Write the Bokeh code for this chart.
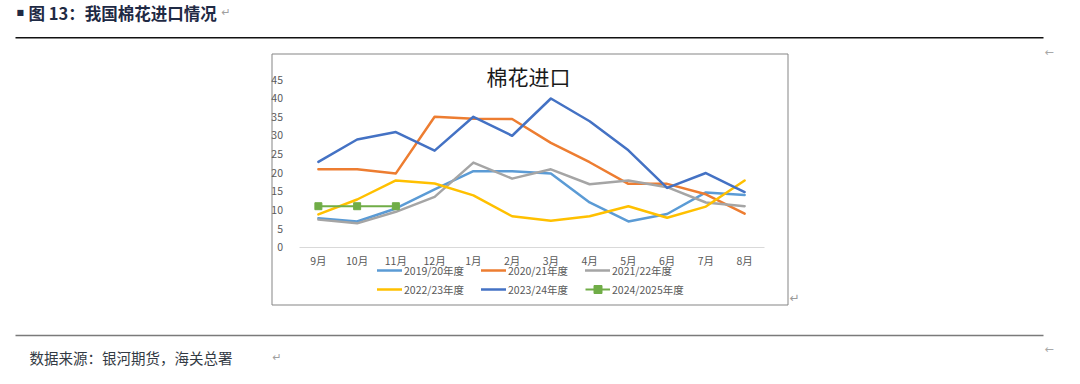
from bokeh.plotting import figure
from bokeh.models import (Range1d, FactorRange, FixedTicker, Label, BoxAnnotation,
                          Legend, LegendItem)
from bokeh.embed import file_html
from bokeh.resources import INLINE

# ---------------- data ----------------
months = ["9月", "10月", "11月", "12月", "1月", "2月", "3月", "4月", "5月", "6月", "7月", "8月"]
s1920 = [7.8, 6.9, 10.4, 15.5, 20.4, 20.4, 19.8, 12.0, 6.9, 8.9, 14.7, 14.0]
s2021 = [20.9, 20.9, 19.8, 35.0, 34.5, 34.4, 28.0, 22.8, 17.0, 17.0, 14.2, 9.0]
s2122 = [7.4, 6.4, 9.5, 13.5, 22.7, 18.4, 20.9, 16.9, 17.9, 16.1, 12.0, 11.0]
s2223 = [8.8, 12.8, 17.9, 17.1, 13.9, 8.3, 7.1, 8.3, 11.0, 7.9, 10.9, 17.9]
s2324 = [22.9, 28.9, 30.9, 25.9, 35.0, 29.9, 39.9, 33.8, 26.0, 15.9, 19.9, 14.8]
s2425 = [11.0, 11.0, 11.0]
series_labels = ["2019/20年度", "2020/21年度", "2021/22年度",
                 "2022/23年度", "2023/24年度", "2024/2025年度"]
y_ticks = [0, 5, 10, 15, 20, 25, 30, 35, 40, 45]
y_top_tick = 45

title_text = "棉花进口"
header_mark = "■"
header_text = "图 13：我国棉花进口情况"
footer_text = "数据来源：银河期货，海关总署"

FONT = "Noto Sans CJK SC"
colors = ["#5B9BD5", "#ED7D31", "#A5A5A5", "#FFC000", "#4472C4", "#70AD47"]

# ---------------- layout (pixels) ----------------
W, H = 1062, 368
PLOT_L, PLOT_R = 298.5, 763.5      # plot-area edges (px)
Y_ZERO, Y_TOP = 246.7, 79.0        # px of value 0 and of top tick
band = (PLOT_R - PLOT_L) / len(months)
pad_pct = (W / band - len(months)) / len(months)
ppu = (Y_ZERO - Y_TOP) / y_top_tick
y_lo = -(H - Y_ZERO) / ppu
y_hi = Y_ZERO / ppu

def xd(X):   # pixel x -> synthetic categorical coordinate
    return (X - PLOT_L) / band

def yd(Y):   # pixel y (from top) -> data value
    return (Y_ZERO - Y) / ppu

# ---------------- figure ----------------
p = figure(x_range=FactorRange(*months, range_padding=pad_pct,
                               range_padding_units="percent"),
           y_range=Range1d(y_lo, y_hi),
           width=W, height=H, min_border=0,
           output_backend="svg", toolbar_location=None)
p.outline_line_color = None
p.grid.visible = False
p.background_fill_color = "white"
p.border_fill_color = "white"

xa = p.xaxis[0]
xa.fixed_location = 0
xa.bounds = (0, len(months))
xa.axis_line_color = "#d9d9d9"
xa.axis_line_width = 1
xa.major_tick_line_color = None
xa.minor_tick_line_color = None
xa.major_label_text_font = FONT
xa.major_label_text_font_size = "10.5px"
xa.major_label_text_color = "#595959"
xa.major_label_standoff = 0

ya = p.yaxis[0]
ya.fixed_location = 0
ya.ticker = FixedTicker(ticks=y_ticks)
ya.axis_line_color = None
ya.major_tick_line_color = None
ya.minor_tick_line_color = None
ya.major_label_text_font = FONT
ya.major_label_text_font_size = "10.5px"
ya.major_label_text_color = "#595959"
ya.major_label_standoff = 10

# ---------------- series ----------------
all_series = [s1920, s2021, s2122, s2223, s2324]
rends = []
for vals, c in zip(all_series, colors[:5]):
    r = p.line(x=months[:len(vals)], y=vals, line_color=c, line_width=2.5,
               line_join="round", line_cap="round")
    rends.append([r])
rg = p.line(x=months[:len(s2425)], y=s2425, line_color=colors[5], line_width=2)
rs = p.scatter(x=months[:len(s2425)], y=s2425, marker="square", size=7,
               fill_color=colors[5], line_color=colors[5])
rends.append([rg, rs])

def make_legend(idx, left_px, center_px):
    items = [LegendItem(label=series_labels[i], renderers=rends[i]) for i in idx]
    return Legend(items=items, orientation="horizontal",
                  location=(left_px, H - (center_px + 10)),
                  glyph_width=25, glyph_height=20, label_height=20,
                  label_standoff=2, label_width=75, spacing=2,
                  padding=0, margin=0,
                  label_text_font=FONT, label_text_font_size="10.5px",
                  label_text_color="#595959",
                  border_line_color=None, background_fill_alpha=0)

p.add_layout(make_legend([0, 1, 2], 377, 270))
p.add_layout(make_legend([3, 4, 5], 377, 289))

# ---------------- page decorations ----------------
def lab(X, Y, text, size, color, font=FONT, style="normal", align="left"):
    p.add_layout(Label(x=xd(X), y=yd(Y), text=text,
                       text_font=font, text_font_size=size, text_font_style=style,
                       text_color=color, text_align=align, text_baseline="middle"))

def box(l, r, t, b, fill=None, line=None, lw=1):
    p.add_layout(BoxAnnotation(left=xd(l), right=xd(r), top=yd(t), bottom=yd(b),
                               fill_color=fill if fill else "white",
                               fill_alpha=1 if fill else 0,
                               line_color=line if line else "white",
                               line_alpha=1 if line else 0, line_width=lw,
                               level="underlay"))

# header
lab(16, 12, header_mark, "8px", "#1f2a44", font="DejaVu Sans")
lab(28, 12, header_text, "16.5px", "#1f2a44", style="bold")
lab(221, 12, "↵", "11px", "#a0a0a0", font="DejaVu Sans")
box(15, 1043, 36.6, 38.0, fill="#111111")

# chart box + title
box(271.5, 787.5, 53.5, 304.5, line="#858585", lw=1)
lab(789, 297, "↵", "12px", "#9a9a9a", font="DejaVu Sans")
lab(528, 75, title_text, "21px", "#1a1a1a", align="center")

# footer
box(15, 1043, 334.3, 335.8, fill="#7a7a7a")
lab(29, 357, footer_text, "14.5px", "#333a44")
lab(272, 357, "↵", "11px", "#a0a0a0", font="DejaVu Sans")

# right-margin marks
lab(1044, 52, "←", "11px", "#a8a8a8", font="DejaVu Sans")
lab(1044, 349, "←", "11px", "#a8a8a8", font="DejaVu Sans")

open("out.html", "w").write(file_html(p, INLINE))
